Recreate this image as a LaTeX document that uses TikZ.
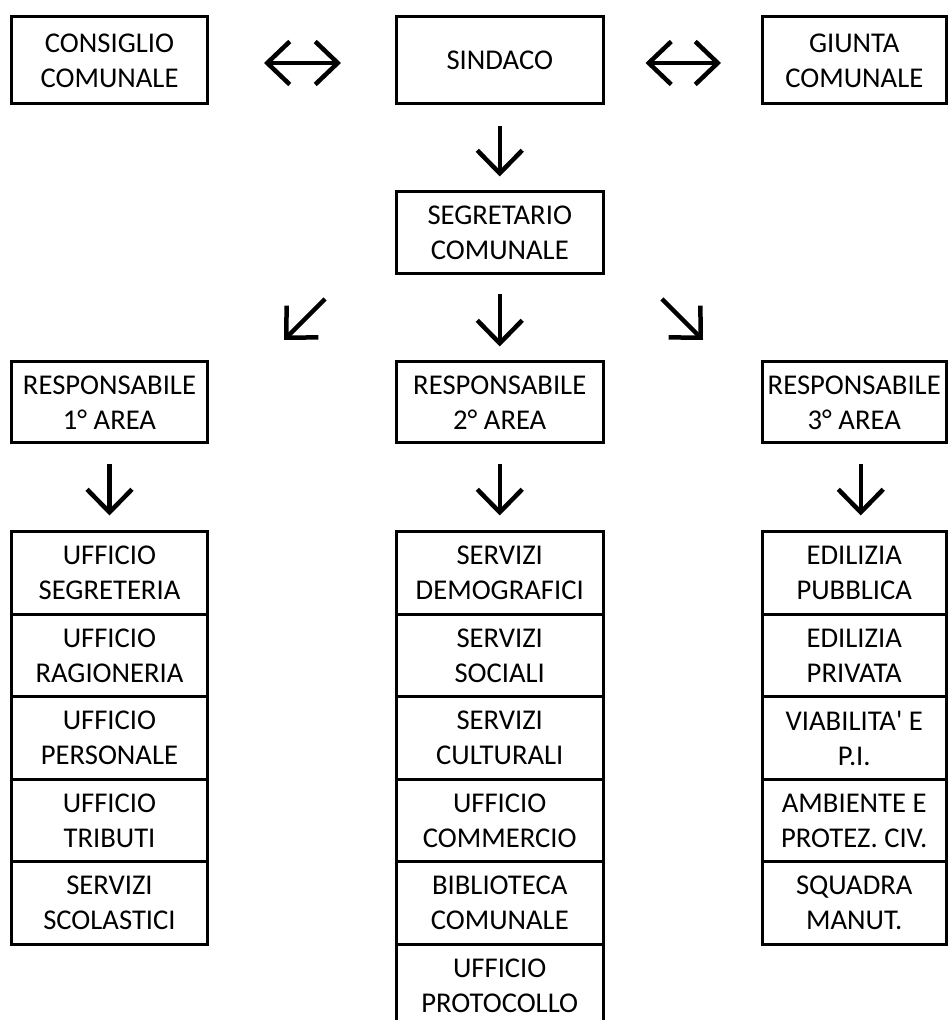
\documentclass[tikz,border=0pt]{standalone}
\usepackage{fontspec}
\setmainfont{Carlito}
\usetikzlibrary{arrows.meta}

\tikzset{
  box/.style={draw, rectangle, line width=0.06cm, inner sep=0pt, align=center,
    font=\fontsize{16.3}{19.9}\selectfont},
  lbox/.style={box, minimum width=3.92cm},
  mbox/.style={box, minimum width=4.13cm},
  rbox/.style={box, minimum width=3.67cm},
  item/.style={minimum height=1.65cm},
  arr/.style={line width=0.09cm, -{Straight Barb[length=0.46cm,width=0.90cm]}},
  dblarr/.style={line width=0.09cm,
    {Straight Barb[length=0.45cm,width=0.86cm]}-{Straight Barb[length=0.45cm,width=0.86cm]}},
}

\begin{document}
\begin{tikzpicture}
  \clip (0,0) rectangle (18.980000,20.400000);

  % Drawing top row
  \node [lbox, minimum height=1.74cm] (consiglio) at (2.190000,19.190000) {CONSIGLIO\\COMUNALE};
  \node [mbox, minimum height=1.74cm] (sindaco) at (9.995000,19.190000) {SINDACO};
  \node [rbox, minimum height=1.74cm] (giunta) at (17.085000,19.190000) {GIUNTA\\COMUNALE};

  % Drawing segretario
  \node [mbox, minimum height=1.64cm] (segretario) at (9.995000,15.740000) {SEGRETARIO\\COMUNALE};

  % Drawing responsabili
  \node [lbox, minimum height=1.62cm] (resp1) at (2.190000,12.350000) {RESPONSABILE\\1° AREA};
  \node [mbox, minimum height=1.62cm] (resp2) at (9.995000,12.350000) {RESPONSABILE\\2° AREA};
  \node [rbox, minimum height=1.62cm] (resp3) at (17.085000,12.350000) {RESPONSABILE\\3° AREA};

  % Drawing 1° area
  \node [lbox, item] (uffsegr) at (2.190000,8.935000) {UFFICIO\\SEGRETERIA};
  \node [lbox, item] (uffrag) at (2.190000,7.285000) {UFFICIO\\RAGIONERIA};
  \node [lbox, item] (uffpers) at (2.190000,5.635000) {UFFICIO\\PERSONALE};
  \node [lbox, item] (ufftrib) at (2.190000,3.985000) {UFFICIO\\TRIBUTI};
  \node [lbox, item] (servscol) at (2.190000,2.335000) {SERVIZI\\SCOLASTICI};

  % Drawing 2° area
  \node [mbox, item] (servdemo) at (9.995000,8.935000) {SERVIZI\\DEMOGRAFICI};
  \node [mbox, item] (servsoc) at (9.995000,7.285000) {SERVIZI\\SOCIALI};
  \node [mbox, item] (servcult) at (9.995000,5.635000) {SERVIZI\\CULTURALI};
  \node [mbox, item] (uffcomm) at (9.995000,3.985000) {UFFICIO\\COMMERCIO};
  \node [mbox, item] (biblio) at (9.995000,2.335000) {BIBLIOTECA\\COMUNALE};
  \node [mbox, item] (uffprot) at (9.995000,0.685000) {UFFICIO\\PROTOCOLLO};

  % Drawing 3° area
  \node [rbox, item] (edpubb) at (17.085000,8.935000) {EDILIZIA\\PUBBLICA};
  \node [rbox, item] (edpriv) at (17.085000,7.285000) {EDILIZIA\\PRIVATA};
  \node [rbox, item] (viab) at (17.085000,5.635000) {VIABILITA\textquotesingle{} E\\P.I.};
  \node [rbox, item] (ambiente) at (17.085000,3.985000) {AMBIENTE E\\PROTEZ. CIV.};
  \node [rbox, item] (squadra) at (17.085000,2.335000) {SQUADRA\\MANUT.};

  % Drawing arrows of top row
  \draw [dblarr, shorten <=1.10cm, shorten >=1.08cm]
    ([yshift=-0.05cm]consiglio.east) -- ([yshift=-0.05cm]sindaco.west);
  \draw [dblarr, shorten <=0.82cm, shorten >=0.80cm]
    ([yshift=-0.05cm]sindaco.east) -- ([yshift=-0.05cm]giunta.west);
  \draw [arr, shorten <=0.42cm, shorten >=0.28cm] (sindaco.south) -- (segretario.north);

  % Drawing arrows from segretario
  \coordinate (sxtail) at (6.500000,14.420000);
  \coordinate (sxtip) at (5.680000,13.600000);
  \coordinate (dxtail) at (13.240000,14.420000);
  \coordinate (dxtip) at (14.060000,13.600000);
  \draw [arr] (sxtail) -- (sxtip);
  \draw [arr, shorten <=0.38cm, shorten >=0.28cm] (segretario.south) -- (resp2.north);
  \draw [arr] (dxtail) -- (dxtip);

  % Drawing arrows to the offices
  \draw [arr, shorten <=0.40cm, shorten >=0.30cm] (resp1.south) -- (uffsegr.north);
  \draw [arr, shorten <=0.40cm, shorten >=0.30cm] (resp2.south) -- (servdemo.north);
  \draw [arr, shorten <=0.40cm, shorten >=0.30cm]
    ([xshift=0.13cm]resp3.south) -- ([xshift=0.13cm]edpubb.north);
\end{tikzpicture}
\end{document}
